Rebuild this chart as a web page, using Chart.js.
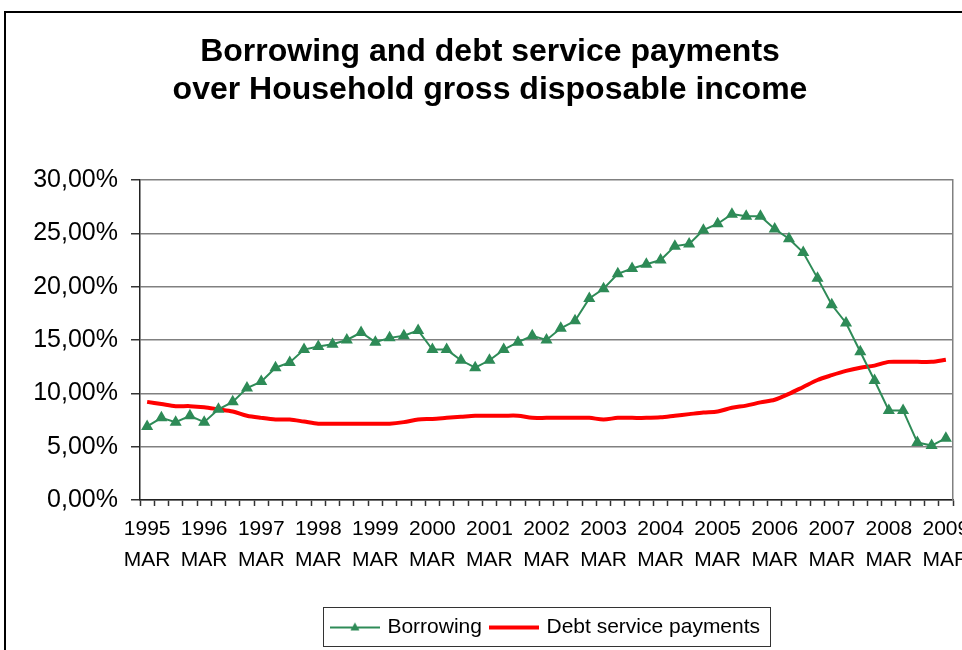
<!DOCTYPE html>
<html lang="en">
<head>
<meta charset="UTF-8">
<title>Borrowing and debt service payments</title>
<script src="https://cdn.jsdelivr.net/npm/chart.js"></script>
<style>
    html, body { margin: 0; padding: 0; background: #fff; overflow: hidden; }
    body { width: 962px; height: 650px; position: relative; }
    .frame {
        position: absolute; left: 4px; top: 11px;
        width: 1000px; height: 700px;
        border: 2px solid #000;
    }
    #chart { position: absolute; left: 0; top: 0; }
</style>
</head>
<body>
<div class="frame"></div>
<canvas id="chart" width="990" height="650"></canvas>

<script>
    // quarterly, 1995 MAR .. 2009 MAR
    const years = [1995, 1996, 1997, 1998, 1999, 2000, 2001, 2002, 2003, 2004, 2005, 2006, 2007, 2008, 2009];
    const months = ['MAR', 'JUN', 'SEP', 'DEC'];
    const categories = [];
    years.forEach(y => months.forEach(m => {
        if (y < 2009 || m === 'MAR') categories.push(y + ' ' + m);
    }));

    // % of household gross disposable income
    const borrowing = [6.9, 7.7, 7.3, 7.9, 7.3, 8.5, 9.2, 10.5, 11.1, 12.4, 12.9, 14.1, 14.4, 14.6, 15.0, 15.7,
        14.8, 15.2, 15.4, 15.9, 14.1, 14.1, 13.1, 12.4, 13.1, 14.1, 14.8, 15.4, 15.0, 16.1, 16.8, 18.9,
        19.8, 21.2, 21.7, 22.1, 22.5, 23.8, 24.0, 25.3, 25.9, 26.8, 26.6, 26.6, 25.4, 24.5, 23.2, 20.8,
        18.3, 16.6, 13.9, 11.2, 8.4, 8.4, 5.4, 5.1, 5.8];
    const debtService = [9.2, 9.0, 8.8, 8.8, 8.7, 8.5, 8.3, 7.9, 7.7, 7.55, 7.55, 7.35, 7.15, 7.15, 7.15, 7.15,
        7.15, 7.15, 7.3, 7.55, 7.6, 7.7, 7.8, 7.9, 7.9, 7.9, 7.9, 7.7, 7.7, 7.7, 7.7, 7.7,
        7.55, 7.7, 7.7, 7.7, 7.75, 7.9, 8.05, 8.2, 8.3, 8.65, 8.85, 9.15, 9.4, 9.95, 10.6, 11.25,
        11.7, 12.1, 12.4, 12.6, 12.95, 12.95, 12.95, 12.95, 13.15];

    const GREEN = '#2E8B57';
    const RED = '#FF0000';
    const FONT = "'Liberation Sans', Arial, sans-serif";

    // little legend samples: line with marker / thick line
    function legendIcon(color, width, marker) {
        const c = document.createElement('canvas');
        c.width = 50; c.height = 14;
        const g = c.getContext('2d');
        g.strokeStyle = color; g.lineWidth = width;
        g.beginPath(); g.moveTo(0, 7); g.lineTo(50, 7); g.stroke();
        if (marker) {
            g.fillStyle = color;
            g.beginPath(); g.moveTo(25, 2); g.lineTo(29.5, 10); g.lineTo(20.5, 10); g.closePath(); g.fill();
        }
        return c;
    }
    const icons = [legendIcon(GREEN, 2, true), legendIcon(RED, 4, false)];

    const legendFrame = {
        id: 'legendFrame',
        afterDraw(chart) {
            const lg = chart.legend;
            const hb = lg.legendHitBoxes;
            if (!hb || !hb.length) return;
            const last = hb[hb.length - 1];
            const x0 = Math.round(hb[0].left) - 10;
            const x1 = Math.round(last.left + last.width) + 10;
            const ctx = chart.ctx;
            ctx.save();
            ctx.strokeStyle = '#333';
            ctx.lineWidth = 1;
            ctx.strokeRect(x0 + 0.5, Math.round(lg.top) + 0.5, x1 - x0, Math.round(lg.height) - 2);
            ctx.restore();
        }
    };

    new Chart(document.getElementById('chart'), {
        type: 'line',
        data: {
            labels: categories,
            datasets: [
                {
                    label: 'Borrowing',
                    data: borrowing,
                    borderColor: GREEN,
                    backgroundColor: GREEN,
                    borderWidth: 2,
                    pointStyle: 'triangle',
                    pointRadius: 5,
                    pointHoverRadius: 5,
                    tension: 0
                },
                {
                    label: 'Debt service payments',
                    data: debtService,
                    borderColor: RED,
                    backgroundColor: RED,
                    borderWidth: 4,
                    pointRadius: 0,
                    tension: 0.3
                }
            ]
        },
        options: {
            responsive: false,
            animation: false,
            layout: { padding: { left: 0, right: 10, top: 0, bottom: 2 } },
            plugins: {
                tooltip: { enabled: false },
                title: {
                    display: true,
                    text: ['Borrowing and debt service payments', 'over Household gross disposable income'],
                    color: '#000',
                    font: { family: FONT, size: 32, weight: 'bold', lineHeight: 38 / 32 },
                    padding: { top: 33, bottom: 71 }
                },
                legend: {
                    position: 'bottom',
                    fullSize: false,
                    labels: {
                        color: '#000',
                        font: { family: FONT, size: 21 },
                        usePointStyle: true,
                        pointStyleWidth: 44,
                        boxHeight: 14,
                        padding: 10,
                        generateLabels(chart) {
                            const items = Chart.defaults.plugins.legend.labels.generateLabels(chart);
                            items.forEach((it, i) => { it.pointStyle = icons[i]; });
                            return items;
                        }
                    }
                }
            },
            scales: {
                x: {
                    offset: true,
                    grid: {
                        display: true,
                        drawOnChartArea: false,
                        offset: true,
                        tickLength: 6,
                        tickColor: '#333',
                        tickWidth: 1.5
                    },
                    border: { display: true, color: '#222', width: 1.5 },
                    ticks: {
                        autoSkip: false,
                        maxRotation: 0,
                        padding: 8,
                        color: '#000',
                        font: { family: FONT, size: 21, lineHeight: 31 / 21 },
                        callback: (v, i) => i % 4 === 0 ? categories[i].split(' ') : ''
                    },
                    afterFit: s => { s.height = 107; }
                },
                y: {
                    min: 0,
                    max: 30,
                    grid: {
                        color: '#808080',
                        lineWidth: 1.5,
                        tickLength: 9,
                        tickColor: '#333'
                    },
                    border: { display: true, color: '#222', width: 1.5 },
                    ticks: {
                        stepSize: 5,
                        padding: 13,
                        color: '#000',
                        font: { family: FONT, size: 25 },
                        callback: v => v.toFixed(2).replace('.', ',') + '%'
                    },
                    afterFit: s => { s.width = 140; }
                },
                yRight: {
                    position: 'right',
                    display: true,
                    grid: { display: false, drawTicks: false },
                    ticks: { display: false },
                    border: { display: true, color: '#808080', width: 1.5 },
                    afterFit: s => { s.width = 27; }
                }
            }
        },
        plugins: [legendFrame]
    });
</script>
</body>
</html>
